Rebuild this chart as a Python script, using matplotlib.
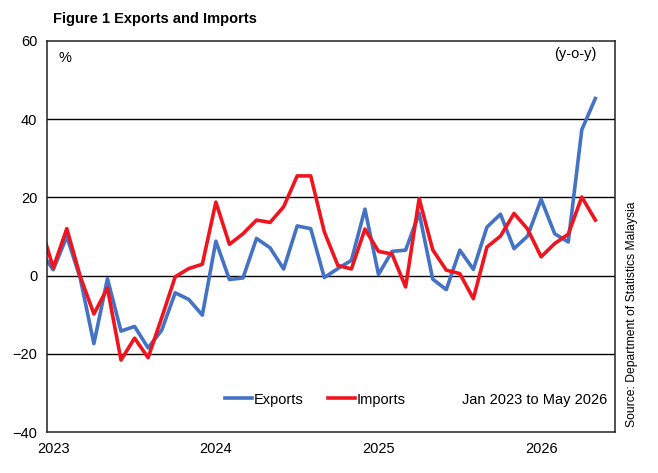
import numpy as np
import matplotlib
matplotlib.use("Agg")
import matplotlib.pyplot as plt

plt.rcParams['font.family'] = ['Liberation Sans', 'DejaVu Sans']

# Monthly y-o-y growth (%), Dec 2022 to May 2026 (Dec 2022 only sits at the clipped left edge)
months = np.arange(-1, 41)
exports = [6.5,
           1.5, 10.0, -0.8, -17.4, -0.8, -14.2, -13.0, -18.5, -14.0, -4.4, -6.1, -10.1,
           8.8, -1.0, -0.6, 9.5, 7.1, 1.7, 12.7, 12.0, -0.5, 1.8, 3.9, 17.0,
           0.3, 6.2, 6.5, 16.0, -0.9, -3.6, 6.5, 1.6, 12.4, 15.7, 6.9, 10.1,
           19.5, 10.7, 8.6, 37.3, 45.3]
imports = [13.5,
           2.0, 12.0, -0.3, -9.8, -3.2, -21.6, -16.0, -21.0, -10.8, -0.3, 1.8, 2.9,
           18.8, 8.0, 10.7, 14.2, 13.6, 17.6, 25.5, 25.5, 11.2, 2.6, 1.7, 11.9,
           6.2, 5.5, -2.9, 19.7, 6.6, 1.4, 0.5, -5.9, 7.3, 10.1, 15.9, 11.9,
           4.8, 8.2, 10.6, 20.1, 14.2]
year_ticks = [0, 12, 24, 36]
year_labels = ['2023', '2024', '2025', '2026']

fig = plt.figure(figsize=(6.58, 4.73), dpi=100)
ax = fig.add_axes([47 / 658, 41 / 473, 568 / 658, 391 / 473])

ax.plot(months, exports, color='#4472C4', lw=2.6, label='Exports')
ax.plot(months, imports, color='#F0141E', lw=2.6, label='Imports')

ax.set_xlim(-0.46, 41.45)
ax.set_ylim(-40, 60)
ax.set_yticks(np.arange(-40, 61, 20))
ax.set_xticks(year_ticks)
ax.set_xticklabels(year_labels)
ax.tick_params(length=0, labelsize=10.5, pad=7)
for y in [-20, 0, 20, 40]:
    ax.axhline(y, color='black', lw=1.0, zorder=0)
for s in ax.spines.values():
    s.set_color('#222222')
    s.set_linewidth(1.1)

ax.text(0.032, 0.957, '%', transform=ax.transAxes, fontsize=10.5, ha='center', va='center')
ax.text(0.968, 0.967, '(y-o-y)', transform=ax.transAxes, fontsize=10.5, ha='right', va='center')
ax.text(0.986, 0.083, 'Jan 2023 to May 2026', transform=ax.transAxes, fontsize=10.5,
        ha='right', va='center')

ax.legend(loc='center left', bbox_to_anchor=(0.313, 0.083), ncol=2, frameon=False,
          fontsize=10.5, handlelength=1.9, handletextpad=0.1, columnspacing=1.65,
          borderpad=0, borderaxespad=0)

fig.text(53 / 658, 1 - 19 / 473, 'Figure 1 Exports and Imports', fontsize=10.5,
         fontweight='bold', ha='left', va='center')
fig.text(632 / 658, 1 - 314 / 473, 'Source: Department of Statistics Malaysia', fontsize=8.7,
         rotation=90, ha='center', va='center')

fig.savefig('out.png', dpi=100)
